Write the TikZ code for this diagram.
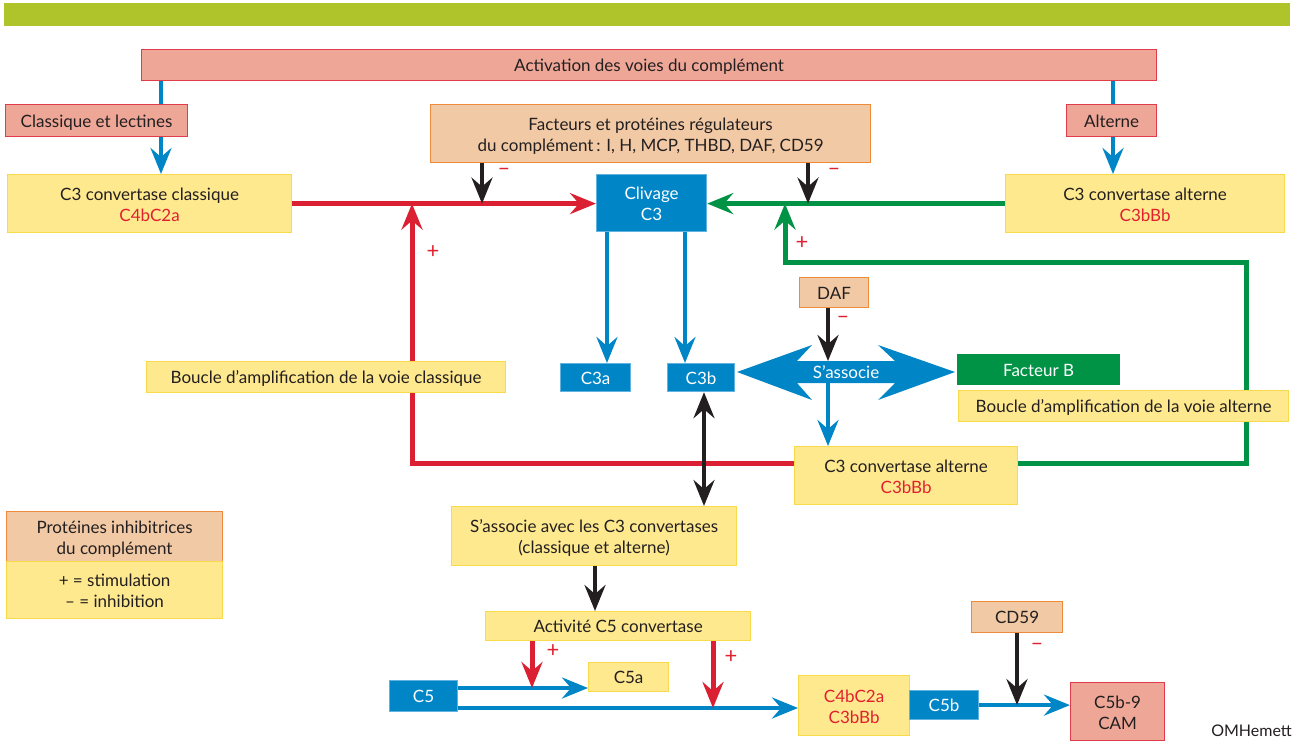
\documentclass[tikz,border=0pt]{standalone}
\usepackage{fontspec}
\setmainfont{Lato}
\usetikzlibrary{arrows.meta,backgrounds}
\definecolor{barcol}{HTML}{AFC42A}
\definecolor{sfill}{HTML}{EEA797}
\definecolor{sline}{HTML}{E23B4B}
\definecolor{pfill}{HTML}{F2C9A5}
\definecolor{pline}{HTML}{EE8B3A}
\definecolor{yfill}{HTML}{FEE98F}
\definecolor{yline}{HTML}{F9DA4B}
\definecolor{bfill}{HTML}{0085C7}
\definecolor{bline}{HTML}{63B3E0}
\definecolor{gfill}{HTML}{009245}
\definecolor{redl}{HTML}{DA2032}
\definecolor{redt}{HTML}{E0202F}
\definecolor{txt}{HTML}{231F20}
\newcommand\rt[1]{\textcolor{redt}{#1}}
% extra height on the first of two lines, to sit the pair a little lower
\newcommand\topstrut{\rule{0pt}{1.07em}}
\tikzset{
  base/.style={draw, line width=1.2pt, inner sep=0pt, anchor=north west,
    align=center, text=txt, font=\fontsize{17}{21}\selectfont,
    execute at begin node={\rule{0pt}{1.05em}},
    execute at end node={\rule[-0.25em]{0pt}{0pt}}},
  ybox/.style={base, fill=yfill, draw=yline},
  pbox/.style={base, fill=pfill, draw=pline},
  sbox/.style={base, fill=sfill, draw=sline},
  bbox/.style={base, fill=bfill, draw=bline, text=white},
  gbox/.style={base, fill=gfill, draw=gfill, text=white},
  tip/.style={-{Stealth[length=26pt,width=21pt,inset=9pt]}},
  dtip/.style={{Stealth[length=26pt,width=21pt,inset=9pt]}-{Stealth[length=26pt,width=21pt,inset=9pt]}},
  bl/.style={draw=bfill, line width=4pt},
  rl/.style={draw=redl, line width=5pt},
  gl/.style={draw=gfill, line width=5pt},
  kl/.style={draw=txt, line width=4pt},
  sign/.style={text=redt, font=\fontsize{22}{22}\selectfont, inner sep=0pt},
}
\begin{document}
\begin{tikzpicture}[x=1pt, y=-1pt]
\useasboundingbox (0,0) rectangle (1294,742);
% header band
\fill[barcol] (4,3) rectangle (1290,26);

% boxes
\node[sbox, minimum width=1015, minimum height=31] (act) at (141,49) {Activation des voies du complément};
\node[sbox, minimum width=182, minimum height=32] (cls) at (5,104) {Classique et lectines};
\node[sbox, minimum width=90, minimum height=32] (alt) at (1066,104) {Alterne};
\node[pbox, minimum width=440, minimum height=58] (fac) at (430,104) {\topstrut Facteurs et protéines régulateurs\\du complément\,: I, H, MCP, THBD, DAF, CD59};
\node[ybox, minimum width=284, minimum height=58] (c3cl) at (7,174) {\topstrut C3 convertase classique\\\rt{C4bC2a}};
\node[ybox, minimum width=279, minimum height=58] (c3al) at (1005,174) {\topstrut C3 convertase alterne\\\rt{C3bBb}};
\node[bbox, minimum width=110, minimum height=57] (cliv) at (596,174) {\topstrut Clivage\\C3};
\node[pbox, minimum width=69, minimum height=30] (daf) at (799,277) {DAF};
\node[ybox, minimum width=359, minimum height=31] (bcl) at (146,361) {Boucle d’amplification de la voie classique};
\node[bbox, minimum width=70, minimum height=28] (c3a) at (560,363) {C3a};
\node[bbox, minimum width=67, minimum height=28] (c3b) at (667,363) {C3b};
\node[gbox, minimum width=162, minimum height=30] (facb) at (957,354) {Facteur B};
\node[ybox, minimum width=330, minimum height=31] (bal) at (958,390) {Boucle d’amplification de la voie alterne};
\node[ybox, minimum width=223, minimum height=58] (c3al2) at (794,446) {\topstrut C3 convertase alterne\\\rt{C3bBb}};
\node[ybox, minimum width=285, minimum height=59] (sav) at (451,506) {\topstrut S’associe avec les C3 convertases\\(classique et alterne)};
\node[pbox, minimum width=216, minimum height=50] (leg1) at (6,511) {\topstrut Protéines inhibitrices\\du complément};
\node[ybox, minimum width=216, minimum height=57] (leg2) at (6,561) {\topstrut + = stimulation\\– = inhibition};
\node[ybox, minimum width=265, minimum height=29] (act5) at (485,611) {Activité C5 convertase};
\node[ybox, minimum width=80, minimum height=29] (c5a) at (588,662) {C5a};
\node[pbox, minimum width=91, minimum height=31] (cd59) at (971,601) {CD59};
\node[bbox, minimum width=68, minimum height=31] (c5) at (389,680) {C5};
\node[ybox, minimum width=111, minimum height=60] (conv) at (798,675) {\topstrut\rt{C4bC2a}\\\rt{C3bBb}};
\node[bbox, minimum width=69, minimum height=29] (c5b) at (909,690) {C5b};
\node[sbox, minimum width=94, minimum height=58] (cam) at (1070,682) {\topstrut C5b-9\\CAM};

% double-headed association arrow
\fill[bfill] (737,372) -- (812,345) -- (797,361) -- (895,361) -- (878,345) -- (955,372)
  -- (878,400) -- (895,383) -- (797,383) -- (812,400) -- cycle;
\node[text=white, font=\fontsize{17}{21}\selectfont, inner sep=0pt] (assoc) at (846,372) {S’associe};
\coordinate (assocT) at (828,361);
\coordinate (assocB) at (828,383);

% reference abscissae and ordinates of connectors
\coordinate (xa) at (161,0);
\coordinate (xalt) at (1113,0);
\coordinate (xf1) at (482,0);
\coordinate (xf2) at (808,0);
\coordinate (xr) at (412,0);
\coordinate (xg) at (785,0);
\coordinate (xge) at (1246,0);
\coordinate (yg) at (0,262);
\coordinate (yl) at (0,463);
\coordinate (xc3a) at (607,0);
\coordinate (xc3b) at (685,0);
\coordinate (xd) at (828,0);
\coordinate (xsav) at (704,0);
\coordinate (xact) at (595,0);
\coordinate (xp1) at (532,0);
\coordinate (xp2) at (713,0);
\coordinate (xcd) at (1017,0);
\coordinate (yu) at (0,688);
\coordinate (yd) at (0,708);

\begin{scope}[on background layer]
% pathway entries
\draw[bl] (act.south -| xa) -- (cls.north -| xa);
\draw[bl, tip] (cls.south -| xa) -- (c3cl.north -| xa);
\draw[bl] (act.south -| xalt) -- (alt.north -| xalt);
\draw[bl, tip] (alt.south -| xalt) -- (c3al.north -| xalt);

% C3 cleavage
\draw[rl, tip] (c3cl.east) -- (c3cl.east -| cliv.west);
\draw[gl, tip] (c3al.west) -- (c3al.west -| cliv.east);
\draw[kl, tip] (fac.south -| xf1) -- (c3cl.east -| xf1);
\draw[kl, tip] (fac.south -| xf2) -- (c3al.west -| xf2);

% amplification loops (run behind the loop labels)
\draw[rl, tip] (c3al2.west |- yl) -- (xr |- yl) -- (c3cl.east -| xr);
\draw[gl, tip] (c3al2.east |- yl) -- (xge |- yl) -- (xge |- yg) -- (xg |- yg) -- (c3al.west -| xg);

% cleavage products
\draw[bl, tip] (cliv.south -| xc3a) -- (c3a.north -| xc3a);
\draw[bl, tip] (cliv.south -| xc3b) -- (c3b.north -| xc3b);

% factor B association
\draw[bl, tip] (assocB) -- (c3al2.north -| xd);

% C5 convertase
\draw[kl, dtip] (c3b.south -| xsav) -- (sav.north -| xsav);
\draw[kl, tip] (sav.south -| xact) -- (act5.north -| xact);
\draw[bl, tip] (c5.east |- yu) -- (c5a.west |- yu);
\draw[bl, tip] (c5.east |- yd) -- (conv.west |- yd);
\draw[rl, tip] (act5.south -| xp1) -- (xp1 |- yu);
\draw[rl, tip] (act5.south -| xp2) -- (xp2 |- yd);

% membrane attack complex
\draw[bl, tip] (c5b.east) -- (c5b.east -| cam.west);
\draw[kl, tip] (cd59.south -| xcd) -- (xcd |- c5b.east);
\end{scope}

\draw[kl, tip] (daf.south -| xd) -- (assocT);

% stimulation / inhibition signs
\node[sign] at (504,172) {–};
\node[sign] at (834,172) {–};
\node[sign] at (433,252) {+};
\node[sign] at (802,243) {+};
\node[sign] at (843,320) {–};
\node[sign] at (553,651) {+};
\node[sign] at (731,657) {+};
\node[sign] at (1037,647) {–};

% credit
\node[anchor=east, text=txt, font=\fontsize{16}{18}\selectfont, inner sep=0pt] (credit) at (1292,731) {OMHemett};
\end{tikzpicture}
\end{document}
